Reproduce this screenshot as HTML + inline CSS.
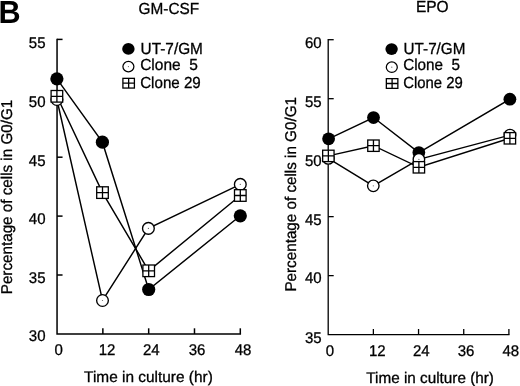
<!DOCTYPE html>
<html><head><meta charset="utf-8"><title>Figure B</title>
<style>
html,body{margin:0;padding:0;background:#fff;}
svg{display:block;font-family:"Liberation Sans",Arial,Helvetica,sans-serif;}
text{fill:#000;stroke:#000;stroke-width:0.3;text-rendering:geometricPrecision;}
</style></head><body>
<svg width="520" height="386" viewBox="0 0 520 386">
<rect width="520" height="386" fill="#fff"/>

<text x="-1.4" y="23" font-size="32" font-weight="bold" textLength="22.1" lengthAdjust="spacingAndGlyphs" style="stroke-width:0">B</text>
<text x="168.9" y="13.8" font-size="16" text-anchor="middle" textLength="60.6" lengthAdjust="spacingAndGlyphs">GM-CSF</text>
<text x="432.3" y="12.3" font-size="16" text-anchor="middle" textLength="32.7" lengthAdjust="spacingAndGlyphs">EPO</text>
<path d="M57.05 38.65V333.9H241.05" fill="none" stroke="#000" stroke-width="1.5"/>
<text x="45.5" y="341.1" font-size="15.5" text-anchor="end" textLength="16.7" lengthAdjust="spacingAndGlyphs">30</text>
<path d="M57.05 275h5.5" stroke="#000" stroke-width="1.5"/>
<text x="45.5" y="282.7" font-size="15.5" text-anchor="end" textLength="16.7" lengthAdjust="spacingAndGlyphs">35</text>
<path d="M57.05 216.1h5.5" stroke="#000" stroke-width="1.5"/>
<text x="45.5" y="224" font-size="15.5" text-anchor="end" textLength="16.7" lengthAdjust="spacingAndGlyphs">40</text>
<path d="M57.05 157.2h5.5" stroke="#000" stroke-width="1.5"/>
<text x="45.5" y="165.6" font-size="15.5" text-anchor="end" textLength="16.7" lengthAdjust="spacingAndGlyphs">45</text>
<path d="M57.05 98.3h5.5" stroke="#000" stroke-width="1.5"/>
<text x="45.5" y="106.7" font-size="15.5" text-anchor="end" textLength="16.7" lengthAdjust="spacingAndGlyphs">50</text>
<path d="M57.05 39.4h5.5" stroke="#000" stroke-width="1.5"/>
<text x="45.5" y="47.5" font-size="15.5" text-anchor="end" textLength="16.7" lengthAdjust="spacingAndGlyphs">55</text>
<text x="58.65" y="354.9" font-size="15.5" text-anchor="middle" textLength="8.35" lengthAdjust="spacingAndGlyphs">0</text>
<path d="M102.86 333.9v-5.6" stroke="#000" stroke-width="1.5"/>
<text x="107.06" y="354.9" font-size="15.5" text-anchor="middle" textLength="16.7" lengthAdjust="spacingAndGlyphs">12</text>
<path d="M148.68 333.9v-5.6" stroke="#000" stroke-width="1.5"/>
<text x="151.28" y="354.9" font-size="15.5" text-anchor="middle" textLength="16.7" lengthAdjust="spacingAndGlyphs">24</text>
<path d="M194.49 333.9v-5.6" stroke="#000" stroke-width="1.5"/>
<text x="197.09" y="354.9" font-size="15.5" text-anchor="middle" textLength="16.7" lengthAdjust="spacingAndGlyphs">36</text>
<path d="M240.3 333.9v-5.6" stroke="#000" stroke-width="1.5"/>
<text x="243.1" y="354.9" font-size="15.5" text-anchor="middle" textLength="16.7" lengthAdjust="spacingAndGlyphs">48</text>
<text transform="translate(12.1 197) rotate(-90)" font-size="15.6" text-anchor="middle" textLength="194.5" lengthAdjust="spacingAndGlyphs">Percentage of cells in G0/G1</text>
<text x="148.45" y="382.3" font-size="15.4" text-anchor="middle" textLength="128.7" lengthAdjust="spacingAndGlyphs">Time in culture (hr)</text>
<path d="M328.2 39.05V334.6H509.55" fill="none" stroke="#000" stroke-width="1.3"/>
<text x="321.6" y="342.5" font-size="15.5" text-anchor="end" textLength="16.7" lengthAdjust="spacingAndGlyphs">35</text>
<path d="M328.2 275.62h5.5" stroke="#000" stroke-width="1.3"/>
<text x="321.6" y="283.4" font-size="15.5" text-anchor="end" textLength="16.7" lengthAdjust="spacingAndGlyphs">40</text>
<path d="M328.2 216.64h5.5" stroke="#000" stroke-width="1.3"/>
<text x="321.6" y="224.8" font-size="15.5" text-anchor="end" textLength="16.7" lengthAdjust="spacingAndGlyphs">45</text>
<path d="M328.2 157.66h5.5" stroke="#000" stroke-width="1.3"/>
<text x="321.6" y="165.8" font-size="15.5" text-anchor="end" textLength="16.7" lengthAdjust="spacingAndGlyphs">50</text>
<path d="M328.2 98.68h5.5" stroke="#000" stroke-width="1.3"/>
<text x="321.6" y="106.8" font-size="15.5" text-anchor="end" textLength="16.7" lengthAdjust="spacingAndGlyphs">55</text>
<path d="M328.2 39.7h5.5" stroke="#000" stroke-width="1.3"/>
<text x="321.6" y="47.7" font-size="15.5" text-anchor="end" textLength="16.7" lengthAdjust="spacingAndGlyphs">60</text>
<text x="329.8" y="356.1" font-size="15.5" text-anchor="middle" textLength="8.35" lengthAdjust="spacingAndGlyphs">0</text>
<path d="M373.38 334.6v-5.6" stroke="#000" stroke-width="1.3"/>
<text x="377.27" y="356.1" font-size="15.5" text-anchor="middle" textLength="16.7" lengthAdjust="spacingAndGlyphs">12</text>
<path d="M418.55 334.6v-5.6" stroke="#000" stroke-width="1.3"/>
<text x="421.25" y="356.1" font-size="15.5" text-anchor="middle" textLength="16.7" lengthAdjust="spacingAndGlyphs">24</text>
<path d="M463.73 334.6v-5.6" stroke="#000" stroke-width="1.3"/>
<text x="466.12" y="356.1" font-size="15.5" text-anchor="middle" textLength="16.7" lengthAdjust="spacingAndGlyphs">36</text>
<path d="M508.9 334.6v-5.6" stroke="#000" stroke-width="1.3"/>
<text x="510.8" y="356.1" font-size="15.5" text-anchor="middle" textLength="16.7" lengthAdjust="spacingAndGlyphs">48</text>
<text transform="translate(295.9 194.3) rotate(-90)" font-size="15.6" text-anchor="middle" textLength="194.5" lengthAdjust="spacingAndGlyphs">Percentage of cells in G0/G1</text>
<text x="430.1" y="382.6" font-size="15.4" text-anchor="middle" textLength="127.7" lengthAdjust="spacingAndGlyphs">Time in culture (hr)</text>
<polyline points="56.9,78.8 102.4,142.2 148.7,289.5 240.3,215.8" fill="none" stroke="#000" stroke-width="1.45"/>
<polyline points="56.9,99.5 102.5,300.5 148.4,228.4 240.3,184.4" fill="none" stroke="#000" stroke-width="1.45"/>
<polyline points="56.9,96.3 102.5,192.6 148.7,270.8 240.3,195.5" fill="none" stroke="#000" stroke-width="1.45"/>
<circle cx="56.9" cy="78.8" r="6.6" fill="#000"/>
<circle cx="102.4" cy="142.2" r="6.6" fill="#000"/>
<circle cx="148.7" cy="289.5" r="6.6" fill="#000"/>
<circle cx="240.3" cy="215.8" r="6.6" fill="#000"/>
<circle cx="56.9" cy="99.5" r="5.85" fill="#fff" stroke="#000" stroke-width="1.35"/><circle cx="56.9" cy="99.5" r="0.6" fill="#666"/>
<circle cx="102.5" cy="300.5" r="5.85" fill="#fff" stroke="#000" stroke-width="1.35"/><circle cx="102.5" cy="300.5" r="0.6" fill="#666"/>
<circle cx="148.4" cy="228.4" r="5.85" fill="#fff" stroke="#000" stroke-width="1.35"/><circle cx="148.4" cy="228.4" r="0.6" fill="#666"/>
<circle cx="240.3" cy="184.4" r="5.85" fill="#fff" stroke="#000" stroke-width="1.35"/><circle cx="240.3" cy="184.4" r="0.6" fill="#666"/>
<rect x="51.1" y="90.5" width="11.6" height="11.6" fill="#fff" stroke="#000" stroke-width="1.3"/><path d="M51.1 96.3H62.7M56.9 90.5V102.1" stroke="#000" stroke-width="1.3" fill="none"/>
<rect x="96.7" y="186.8" width="11.6" height="11.6" fill="#fff" stroke="#000" stroke-width="1.3"/><path d="M96.7 192.6H108.3M102.5 186.8V198.4" stroke="#000" stroke-width="1.3" fill="none"/>
<rect x="142.9" y="265" width="11.6" height="11.6" fill="#fff" stroke="#000" stroke-width="1.3"/><path d="M142.9 270.8H154.5M148.7 265V276.6" stroke="#000" stroke-width="1.3" fill="none"/>
<rect x="234.5" y="189.7" width="11.6" height="11.6" fill="#fff" stroke="#000" stroke-width="1.3"/><path d="M234.5 195.5H246.1M240.3 189.7V201.3" stroke="#000" stroke-width="1.3" fill="none"/>
<polyline points="328.6,138.8 373.5,117.55 418.85,152.6 509.9,99.2" fill="none" stroke="#000" stroke-width="1.45"/>
<polyline points="328.3,158.4 373.3,185.8 418.9,159.4 510,135.1" fill="none" stroke="#000" stroke-width="1.45"/>
<polyline points="328.35,155.9 373.45,145.7 418.9,167.3 509.9,138.3" fill="none" stroke="#000" stroke-width="1.45"/>
<circle cx="328.6" cy="138.8" r="6.4" fill="#000"/>
<circle cx="373.5" cy="117.55" r="6.4" fill="#000"/>
<circle cx="418.85" cy="152.6" r="6.4" fill="#000"/>
<circle cx="509.9" cy="99.2" r="6.4" fill="#000"/>
<circle cx="328.3" cy="158.4" r="5.75" fill="#fff" stroke="#000" stroke-width="1.35"/><circle cx="328.3" cy="158.4" r="0.6" fill="#666"/>
<circle cx="373.3" cy="185.8" r="5.75" fill="#fff" stroke="#000" stroke-width="1.35"/><circle cx="373.3" cy="185.8" r="0.6" fill="#666"/>
<circle cx="418.9" cy="159.4" r="5.75" fill="#fff" stroke="#000" stroke-width="1.35"/><circle cx="418.9" cy="159.4" r="0.6" fill="#666"/>
<circle cx="510" cy="135.1" r="5.75" fill="#fff" stroke="#000" stroke-width="1.35"/><circle cx="510" cy="135.1" r="0.6" fill="#666"/>
<rect x="322.65" y="150.2" width="11.4" height="11.4" fill="#fff" stroke="#000" stroke-width="1.3"/><path d="M322.65 155.9H334.05M328.35 150.2V161.6" stroke="#000" stroke-width="1.3" fill="none"/>
<rect x="367.75" y="140" width="11.4" height="11.4" fill="#fff" stroke="#000" stroke-width="1.3"/><path d="M367.75 145.7H379.15M373.45 140V151.4" stroke="#000" stroke-width="1.3" fill="none"/>
<rect x="413.2" y="161.6" width="11.4" height="11.4" fill="#fff" stroke="#000" stroke-width="1.3"/><path d="M413.2 167.3H424.6M418.9 161.6V173" stroke="#000" stroke-width="1.3" fill="none"/>
<rect x="504.2" y="132.6" width="11.4" height="11.4" fill="#fff" stroke="#000" stroke-width="1.3"/><path d="M504.2 138.3H515.6M509.9 132.6V144" stroke="#000" stroke-width="1.3" fill="none"/>
<ellipse cx="128.4" cy="48.9" rx="6.2" ry="5.8" fill="#000"/>
<ellipse cx="128.4" cy="66.6" rx="5.5" ry="5.2" fill="#fff" stroke="#000" stroke-width="1.25"/><circle cx="128.4" cy="66.6" r="0.6" fill="#666"/>
<rect x="122.9" y="78.35" width="11.5" height="9.7" fill="#fff" stroke="#000" stroke-width="1.3"/><path d="M122.9 83.2H134.4M128.65 78.35V88.05" stroke="#000" stroke-width="1.3" fill="none"/>
<text x="140.6" y="54.1" font-size="16" text-anchor="start" textLength="62.3" lengthAdjust="spacingAndGlyphs">UT-7/GM</text>
<text x="140.2" y="70.3" font-size="16" text-anchor="start" textLength="57.6" lengthAdjust="spacingAndGlyphs" xml:space="preserve">Clone  5</text>
<text x="140.2" y="87.7" font-size="16" text-anchor="start" textLength="60.6" lengthAdjust="spacingAndGlyphs">Clone 29</text>
<ellipse cx="391.6" cy="49.1" rx="6.2" ry="5.8" fill="#000"/>
<ellipse cx="391.8" cy="67.2" rx="5.5" ry="5.2" fill="#fff" stroke="#000" stroke-width="1.25"/><circle cx="391.8" cy="67.2" r="0.6" fill="#666"/>
<rect x="386.35" y="78.65" width="11.5" height="9.7" fill="#fff" stroke="#000" stroke-width="1.3"/><path d="M386.35 83.5H397.85M392.1 78.65V88.35" stroke="#000" stroke-width="1.3" fill="none"/>
<text x="403.6" y="54.2" font-size="16" text-anchor="start" textLength="61.8" lengthAdjust="spacingAndGlyphs">UT-7/GM</text>
<text x="403.2" y="70.4" font-size="16" text-anchor="start" textLength="56.8" lengthAdjust="spacingAndGlyphs" xml:space="preserve">Clone  5</text>
<text x="403.2" y="87.8" font-size="16" text-anchor="start" textLength="59.6" lengthAdjust="spacingAndGlyphs">Clone 29</text>
</svg></body></html>
